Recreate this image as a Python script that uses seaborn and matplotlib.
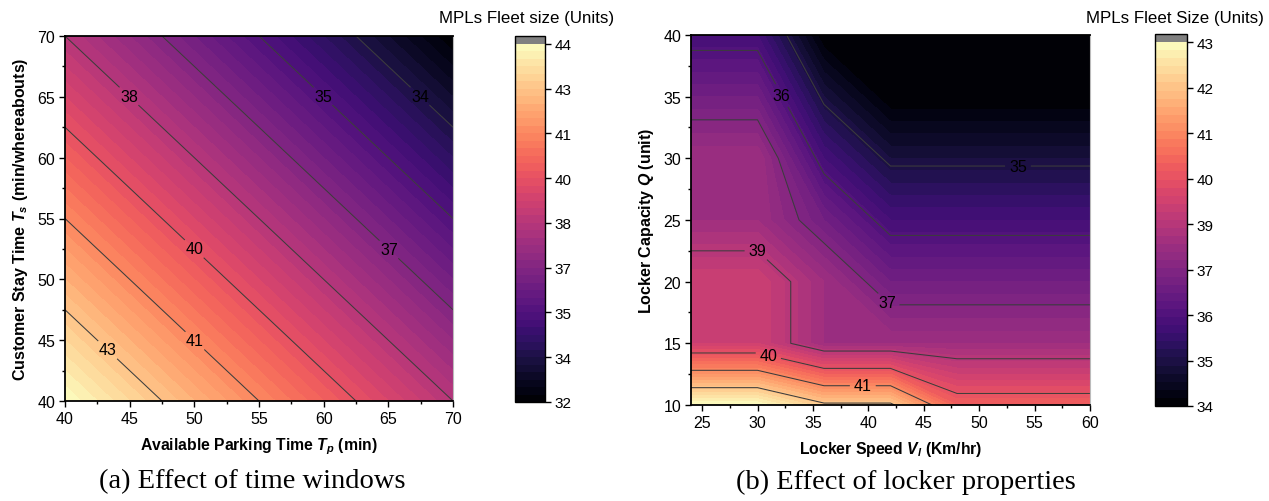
import numpy as np
import matplotlib
matplotlib.use("Agg")
import matplotlib.pyplot as plt
from matplotlib.ticker import AutoMinorLocator
import seaborn as sns

# ---- data -----------------------------------------------------------------
# (a) fleet size vs. available parking time (columns) and customer stay time (rows)
parking_time = [40, 45, 50, 55, 60, 65, 70]
stay_time = [40, 45, 50, 55, 60, 65, 70]
fleet_time = [
    [44, 43, 42, 41, 40, 39, 38],
    [43, 42, 41, 40, 39, 38, 37],
    [42, 41, 40, 39, 38, 37, 36],
    [41, 40, 39, 38, 37, 36, 35],
    [40, 39, 38, 37, 36, 35, 34],
    [39, 38, 37, 36, 35, 34, 33],
    [38, 37, 36, 35, 34, 33, 32],
]

# (b) fleet size vs. locker speed (columns) and locker capacity (rows)
locker_speed = [24, 30, 36, 42, 48, 54, 60]
locker_capacity = [10, 15, 20, 25, 30, 35, 40]
fleet_locker = [
    [43, 43, 42, 42, 40, 40, 40],
    [39, 39, 38, 38, 38, 38, 38],
    [39, 39, 38, 37, 37, 37, 37],
    [38, 38, 37, 36, 36, 36, 36],
    [38, 38, 36, 35, 35, 35, 35],
    [37, 37, 35, 34, 34, 34, 34],
    [36, 36, 34, 34, 34, 34, 34],
]

range_a = (32, 44)
range_b = (34, 43)

# ---- style ----------------------------------------------------------------
sns.set_theme(style="ticks")
plt.rcParams["font.family"] = ["Liberation Sans", "DejaVu Sans"]
plt.rcParams["mathtext.fontset"] = "custom"
plt.rcParams["mathtext.it"] = "Liberation Sans:italic:bold"
plt.rcParams["mathtext.rm"] = "Liberation Sans:bold"
plt.rcParams["mathtext.bf"] = "Liberation Sans:bold"
for key in ("text.color", "axes.labelcolor", "xtick.color", "ytick.color",
            "axes.edgecolor"):
    plt.rcParams[key] = "black"

cmap = sns.color_palette("magma", as_cmap=True).copy()
cmap.set_over("#808080")

W, H = 1269, 502
fig = plt.figure(figsize=(W / 100, H / 100), dpi=100)


def box(x0, y0, x1, y1):
    return [x0 / W, 1 - y1 / H, (x1 - x0) / W, (y1 - y0) / H]


ax_a = fig.add_axes(box(65, 37, 453, 402))
cax_a = fig.add_axes(box(515, 37, 545, 403))
ax_b = fig.add_axes(box(691, 36, 1090, 406))
cax_b = fig.add_axes(box(1155, 35, 1187, 407))


def half_up(v):
    return str(int(np.floor(v + 0.5)))


def draw_panel(ax, cax, xs, ys, zs, vrange, n_fill, label_levels, label_pos,
               xlabel, ylabel, xticks, yticks, xlim, ylim, cbar_title, title_x):
    X, Y = np.meshgrid(xs, ys)
    Z = np.asarray(zs, dtype=float)
    fill_levels = np.linspace(vrange[0], vrange[1], n_fill)
    line_levels = np.linspace(vrange[0], vrange[1], 9)
    cf = ax.contourf(X, Y, Z, levels=fill_levels, cmap=cmap, extend="max")
    cs = ax.contour(X, Y, Z, levels=line_levels[1:-1], colors="#3c3c3c",
                    linewidths=0.75)
    fmt = {lv: half_up(lv) for lv in cs.levels}
    lab_lv = [cs.levels[i] for i in label_levels]
    texts = ax.clabel(cs, levels=lab_lv, fmt=fmt, inline=True, fontsize=11.5,
                      colors="black", manual=label_pos, inline_spacing=4)
    for t in texts:
        t.set_rotation(0)

    ax.set_xlim(*xlim)
    ax.set_ylim(*ylim)
    ax.set_xticks(xticks)
    ax.set_yticks(yticks)
    ax.xaxis.set_minor_locator(AutoMinorLocator(2))
    ax.yaxis.set_minor_locator(AutoMinorLocator(2))
    ax.tick_params(which="major", direction="out", length=4, width=1,
                   labelsize=11.5, color="black", pad=3)
    ax.tick_params(which="minor", direction="out", length=2.5, width=1,
                   color="black")
    for side in ("left", "bottom", "top"):
        ax.spines[side].set_color("black")
        ax.spines[side].set_linewidth(1.3)
    ax.spines["right"].set_color("#bbbbbb")
    ax.spines["right"].set_linewidth(0.8)
    ax.set_xlabel(xlabel, fontsize=11.3, fontweight="bold", labelpad=7)
    ax.set_ylabel(ylabel, fontsize=11.5, fontweight="bold", labelpad=5)

    cb = fig.colorbar(cf, cax=cax, extendrect=True, extendfrac=0.022,
                      ticks=line_levels)
    cb.ax.set_yticklabels([half_up(v) for v in line_levels])
    cb.ax.tick_params(length=4, width=1, labelsize=11, color="black", pad=3)
    cb.outline.set_linewidth(1.0)
    cb.outline.set_edgecolor("black")
    fig.text(title_x / W, 1 - 18 / H, cbar_title, ha="center", va="center",
             fontsize=12.2)


draw_panel(
    ax_a, cax_a, parking_time, stay_time, fleet_time, range_a, 49,
    label_levels=[0, 1, 2, 3, 4, 5, 6],
    label_pos=[(67.4, 65.0), (59.9, 65.0), (65.0, 52.4), (44.9, 65.0),
               (49.9, 52.4), (49.9, 44.8), (43.3, 44.2)],
    xlabel=r"Available Parking Time $T_p$ (min)",
    ylabel=r"Customer Stay Time $T_s$ (min/whereabouts)",
    xticks=[40, 45, 50, 55, 60, 65, 70], yticks=[40, 45, 50, 55, 60, 65, 70],
    xlim=(40, 70), ylim=(40, 70),
    cbar_title="MPLs Fleet size (Units)", title_x=527,
)

draw_panel(
    ax_b, cax_b, locker_speed, locker_capacity, fleet_locker, range_b, 46,
    label_levels=[0, 1, 2, 3, 4, 5],
    label_pos=[(53.5, 29.3), (32.0, 35.0), (41.5, 18.1), (30.0, 22.5),
               (31.0, 14.1), (39.5, 11.6)],
    xlabel=r"Locker Speed $V_l$ (Km/hr)",
    ylabel=r"Locker Capacity $Q$ (unit)",
    xticks=[25, 30, 35, 40, 45, 50, 55, 60], yticks=[10, 15, 20, 25, 30, 35, 40],
    xlim=(24, 60), ylim=(10, 40),
    cbar_title="MPLs Fleet Size (Units)", title_x=1175,
)

fig.text(252 / W, 1 - 482 / H, "(a) Effect of time windows",
         family="Liberation Serif", fontsize=20.5, ha="center", va="center")
fig.text(906 / W, 1 - 482 / H, "(b) Effect of locker properties",
         family="Liberation Serif", fontsize=20.5, ha="center", va="center")

fig.savefig("out.png", dpi=100)
